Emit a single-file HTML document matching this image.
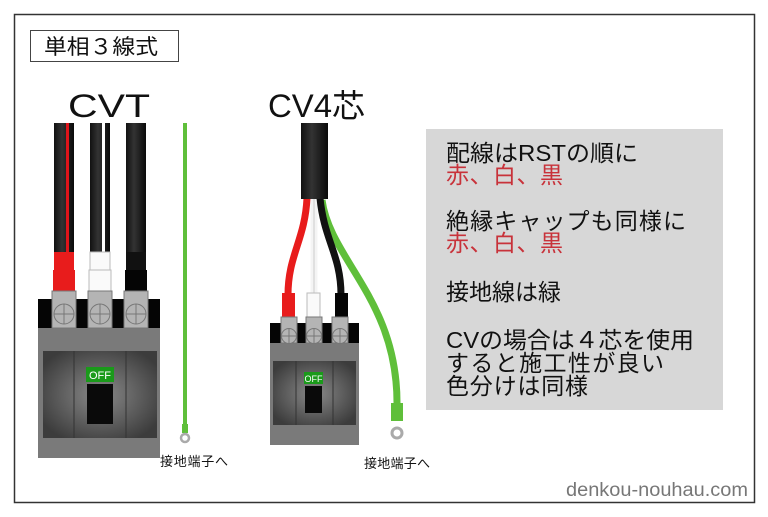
<!DOCTYPE html>
<html><head><meta charset="utf-8"><style>
html,body{margin:0;padding:0;background:#fff;}
svg text{font-family:"Liberation Sans","Noto Sans CJK JP",sans-serif;}
</style></head><body>
<svg width="768" height="512" viewBox="0 0 768 512" xmlns="http://www.w3.org/2000/svg">
<defs>
<linearGradient id="cab" x1="0" x2="1"><stop offset="0" stop-color="#111"/><stop offset="0.4" stop-color="#333"/><stop offset="1" stop-color="#0a0a0a"/></linearGradient>
<radialGradient id="pan" cx="0.5" cy="0.5" r="0.6"><stop offset="0" stop-color="#8a8a8a"/><stop offset="1" stop-color="#3c3c3c"/></radialGradient>
</defs>
<rect x="14.5" y="14.5" width="740" height="488" fill="#fff" stroke="#333" stroke-width="1.5"/>
<rect x="30.5" y="30.5" width="148" height="31" fill="#fff" stroke="#444" stroke-width="1"/>
<text x="44" y="54" font-size="21" fill="#111" textLength="114" lengthAdjust="spacingAndGlyphs">単相３線式</text>
<text x="68" y="117" font-size="32" fill="#111" textLength="82" lengthAdjust="spacingAndGlyphs">CVT</text>
<text x="268" y="117" font-size="32" fill="#111" textLength="97" lengthAdjust="spacingAndGlyphs">CV4芯</text>

<!-- CVT breaker -->
<rect x="38" y="299" width="122" height="159" fill="#7a7a7a"/>
<rect x="38" y="299" width="122" height="29" fill="#050505"/>
<rect x="43" y="351" width="114" height="87" fill="url(#pan)"/>
<line x1="74" y1="351" x2="74" y2="438" stroke="#333" stroke-width="1"/>
<line x1="126" y1="351" x2="126" y2="438" stroke="#333" stroke-width="1"/>
<rect x="86" y="367" width="28" height="15" fill="#1a9a1a"/>
<text x="100" y="379" font-size="11" fill="#fff" text-anchor="middle">OFF</text>
<rect x="87" y="384" width="26" height="40" fill="#0a0a0a"/>
<g>
<rect x="54" y="123" width="20" height="132" fill="url(#cab)"/><rect x="66" y="123" width="3" height="132" fill="#e0141a"/>
<rect x="54" y="252" width="20" height="20" fill="#e81c1c"/><rect x="53" y="270" width="22" height="21" fill="#e81c1c"/>
<rect x="90" y="123" width="20" height="132" fill="url(#cab)"/><rect x="102" y="123" width="3" height="132" fill="#fff"/>
<rect x="90" y="252" width="20" height="20" fill="#fafafa" stroke="#bbb"/><rect x="89" y="270" width="22" height="21" fill="#fafafa" stroke="#bbb"/>
<rect x="126" y="123" width="20" height="132" fill="url(#cab)"/>
<rect x="126" y="252" width="20" height="20" fill="#111"/><rect x="125" y="270" width="22" height="21" fill="#050505"/>
</g>
<g fill="#b4b4b4" stroke="#777">
<rect x="52" y="291" width="24" height="37"/><rect x="88" y="291" width="24" height="37"/><rect x="124" y="291" width="24" height="37"/>
<circle cx="64" cy="314" r="10"/><circle cx="100" cy="314" r="10"/><circle cx="136" cy="314" r="10"/>
</g>
<g stroke="#777" stroke-width="1"><path d="M54 314h20M64 304v20M90 314h20M100 304v20M126 314h20M136 304v20"/></g>
<rect x="183" y="123" width="4" height="303" fill="#5fbf3a"/>
<rect x="182" y="424" width="6" height="9" fill="#5fbf3a"/>
<circle cx="185" cy="438" r="4" fill="#fff" stroke="#aaa" stroke-width="2.5"/>
<text x="160" y="466" font-size="13" fill="#111" textLength="68" lengthAdjust="spacing">接地端子へ</text>

<!-- CV4 -->
<path d="M322 200 C330 260 398 300 397 405" stroke="#5fbf3a" stroke-width="7" fill="none"/>
<path d="M307 198 C305 240 288 255 288 295" stroke="#e81c1c" stroke-width="7" fill="none"/>
<line x1="314" y1="198" x2="314" y2="295" stroke="#f4f4f4" stroke-width="7"/>
<line x1="314" y1="198" x2="314" y2="295" stroke="#ccc" stroke-width="1"/>
<path d="M320 198 C324 240 341 255 341 295" stroke="#111" stroke-width="7" fill="none"/>
<rect x="301" y="123" width="27" height="76" fill="url(#cab)"/>
<rect x="282" y="293" width="13" height="24" fill="#e81c1c"/>
<rect x="307" y="293" width="13" height="24" fill="#fafafa" stroke="#bbb"/>
<rect x="335" y="293" width="13" height="24" fill="#050505"/>
<rect x="391" y="403" width="12" height="18" fill="#5fbf3a"/>
<circle cx="397" cy="433" r="5" fill="#fff" stroke="#aaa" stroke-width="3"/>
<rect x="270" y="323" width="89" height="122" fill="#7a7a7a"/>
<rect x="270" y="323" width="89" height="20" fill="#050505"/>
<g fill="#b4b4b4" stroke="#777">
<rect x="281" y="317" width="16" height="26"/><rect x="306" y="317" width="16" height="26"/><rect x="332" y="317" width="16" height="26"/>
<circle cx="289" cy="336" r="7.5"/><circle cx="314" cy="336" r="7.5"/><circle cx="340" cy="336" r="7.5"/>
</g>
<g stroke="#777"><path d="M282 336h14M289 329v14M307 336h14M314 329v14M333 336h14M340 329v14"/></g>
<rect x="273" y="361" width="83" height="64" fill="url(#pan)"/>
<line x1="296" y1="361" x2="296" y2="425" stroke="#333"/><line x1="333" y1="361" x2="333" y2="425" stroke="#333"/>
<rect x="304" y="372" width="19" height="12" fill="#1a9a1a"/>
<text x="313.5" y="382" font-size="9" fill="#fff" text-anchor="middle">OFF</text>
<rect x="305" y="386" width="17" height="27" fill="#0a0a0a"/>
<text x="364" y="468" font-size="13" fill="#111" textLength="66" lengthAdjust="spacing">接地端子へ</text>

<!-- info box -->
<rect x="426" y="129" width="297" height="281" fill="#d7d7d7"/>
<g font-size="23" fill="#111">
<text x="446" y="161" textLength="192" lengthAdjust="spacingAndGlyphs">配線はRSTの順に</text>
<text x="446" y="183" fill="#c8323a" textLength="117" lengthAdjust="spacing">赤、白、黒</text>
<text x="446" y="229" textLength="240" lengthAdjust="spacing">絶縁キャップも同様に</text>
<text x="446" y="251" fill="#c8323a" textLength="117" lengthAdjust="spacing">赤、白、黒</text>
<text x="446" y="300" textLength="115" lengthAdjust="spacing">接地線は緑</text>
<text x="446" y="348" textLength="248" lengthAdjust="spacingAndGlyphs">CVの場合は４芯を使用</text>
<text x="446" y="371" textLength="218" lengthAdjust="spacing">すると施工性が良い</text>
<text x="446" y="394" textLength="142" lengthAdjust="spacing">色分けは同様</text>
</g>
<text x="566" y="496" font-size="19" fill="#777" textLength="182" lengthAdjust="spacingAndGlyphs">denkou-nouhau.com</text>
</svg>
</body></html>
